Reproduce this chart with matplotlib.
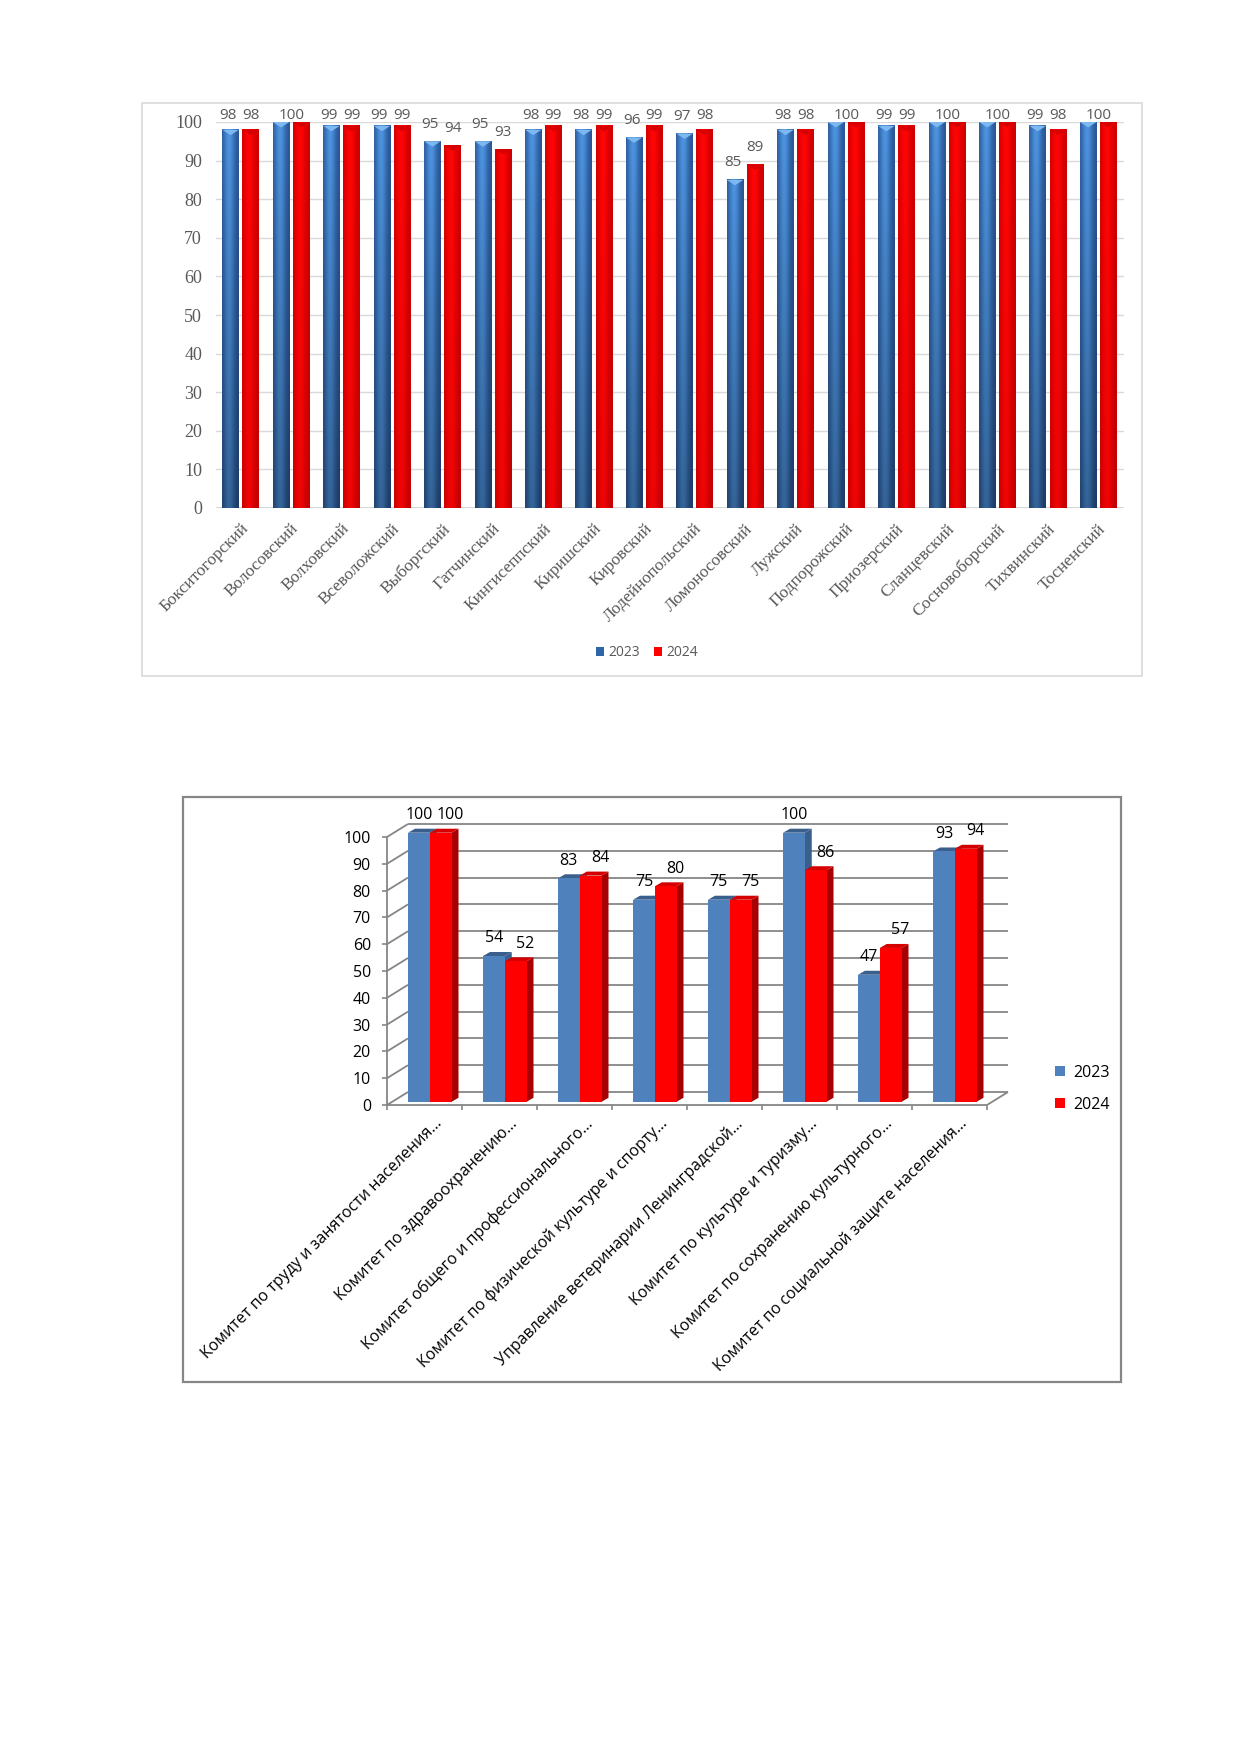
import numpy as np
import matplotlib.pyplot as plt
from matplotlib.patches import Polygon, Rectangle, Patch

W, H = 1240, 1754

# ---- data: districts (top chart) ----
districts = ["Бокситогорский", "Волосовский", "Волховский", "Всеволожский", "Выборгский",
             "Гатчинский", "Кингисеппский", "Киришский", "Кировский", "Лодейнопольский",
             "Ломоносовский", "Лужский", "Подпорожский", "Приозерский", "Сланцевский",
             "Сосновоборский", "Тихвинский", "Тосненский"]
district_2023 = [98, 100, 99, 99, 95, 95, 98, 98, 96, 97, 85, 98, 100, 99, 100, 100, 99, 100]
district_2024 = [98, 100, 99, 99, 94, 93, 99, 99, 99, 98, 89, 98, 100, 99, 100, 100, 98, 100]

# ---- data: committees (bottom chart) ----
committees = ["Комитет по труду и занятости населения…",
              "Комитет по здравоохранению…",
              "Комитет общего и профессионального…",
              "Комитет по физической культуре и спорту…",
              "Управление ветеринарии Ленинградской…",
              "Комитет по культуре и туризму…",
              "Комитет по сохранению культурного…",
              "Комитет по социальной защите населения…"]
committee_2023 = [100, 54, 83, 75, 75, 100, 47, 93]
committee_2024 = [100, 52, 84, 80, 75, 86, 57, 94]
years = ["2023", "2024"]

GREY_TXT = "#595959"
SERIF = ["Liberation Serif", "DejaVu Serif"]
SANS = ["Open Sans", "DejaVu Sans"]


def fig_rect(x0, y0, x1, y1):
    return [x0 / W, 1 - y1 / H, (x1 - x0) / W, (y1 - y0) / H]


def gradient_bar(ax, x0, width, height, edge, mid, bottom_dark):
    nx, ny = 40, 60
    t = np.linspace(0, 1, nx)
    prof = np.exp(-((t - 0.42) / 0.33) ** 2)
    edge, mid = np.array(edge), np.array(mid)
    cols = edge[None, :] + (mid - edge)[None, :] * prof[:, None]
    v = np.linspace(1.0, bottom_dark, ny)
    img = np.clip(cols[None, :, :] * v[:, None, None], 0, 1)
    ax.imshow(img, extent=(x0, x0 + width, 0, height), aspect="auto",
              interpolation="bilinear", zorder=2)


fig = plt.figure(figsize=(W / 100, H / 100), dpi=100)
fig.patch.set_facecolor("white")

# frames
fig.patches.append(Rectangle((142 / W, 1 - 676 / H), (1142 - 142) / W, (676 - 103) / H,
                             transform=fig.transFigure, fill=False, ec="#D9D9D9", lw=1.2))
fig.patches.append(Rectangle((183 / W, 1 - 1382 / H), (1121 - 183) / W, (1382 - 797) / H,
                             transform=fig.transFigure, fill=False, ec="#868686", lw=1.6))

# ================= top chart =================
ax1 = fig.add_axes(fig_rect(216, 122, 1124, 508))
n1 = len(districts)
for v in range(10, 101, 10):
    ax1.axhline(v, color="#D9D9D9", lw=1, zorder=0)
ax1.axhline(0, color="#D0D0D0", lw=1.2, zorder=0)

BW1 = 0.33
blue_edge, blue_mid = (0.16, 0.33, 0.58), (0.30, 0.58, 0.88)
red_edge, red_mid = (0.80, 0.0, 0.0), (1.0, 0.02, 0.02)
for i, (a, b) in enumerate(zip(district_2023, district_2024)):
    xa = i - 0.21 - BW1 / 2
    xb = i + 0.19 - BW1 / 2
    gradient_bar(ax1, xa, BW1, a, blue_edge, blue_mid, 0.68)
    gradient_bar(ax1, xb, BW1, b, red_edge, red_mid, 0.94)
    ax1.add_patch(Polygon([(xa, a), (xa + BW1, a), (xa + BW1 / 2, a - 1.4)],
                          color="#7DB8F0", zorder=3, lw=0))
    ax1.add_patch(Polygon([(xb, b), (xb + BW1, b), (xb + BW1 / 2, b - 1.4)],
                          color="#D80000", zorder=3, lw=0))
    if a == 100 and b == 100:
        ax1.text(i, 101.8, "100", ha="center", va="center", fontsize=11,
                 color=GREY_TXT, family=SANS)
    else:
        ax1.text(i - 0.26, min(a + 4.4, 101.8), str(a), ha="center", va="center",
                 fontsize=11, color=GREY_TXT, family=SANS)
        ax1.text(i + 0.19, min(b + 4.4, 101.8), str(b), ha="center", va="center",
                 fontsize=11, color=GREY_TXT, family=SANS)
    ax1.text(i - 0.02, -3.3, districts[i], rotation=45, rotation_mode="anchor",
             ha="right", va="top", fontsize=12.5, color=GREY_TXT, family=SERIF)

ax1.set_xlim(-0.5, n1 - 0.5)
ax1.set_ylim(0, 100)
ax1.set_yticks(range(0, 101, 10))
ax1.set_yticklabels([str(v) for v in range(0, 101, 10)], family=SERIF,
                    fontsize=13, color=GREY_TXT)
ax1.set_xticks([])
ax1.tick_params(axis="y", length=0, pad=10)
for s in ax1.spines.values():
    s.set_visible(False)

top_handles = [Patch(facecolor="#2E64A8", edgecolor="none"),
               Patch(facecolor="#FF0000", edgecolor="none")]
fig.legend(top_handles, years, loc="center", bbox_to_anchor=(647 / W, 1 - 653 / H),
           ncol=2, frameon=False, handlelength=0.6, handleheight=0.6,
           handletextpad=0.3, columnspacing=1.0, labelcolor=GREY_TXT,
           prop={"family": SANS, "size": 10})

# ================= bottom chart (pseudo 3D) =================
XPX, YPX = 75.0, 2.68  # pixels per category / per unit
ax2 = fig.add_axes(fig_rect(387, 818, 1012, 1105))
ax2.set_xlim(0, (1012 - 387) / XPX)
ax2.set_ylim(0, (1105 - 818) / YPX)
n2 = len(committees)
DX, DY = 21 / XPX, 13 / YPX
grid_kw = dict(color="#868686", lw=1.3, zorder=1, solid_capstyle="butt")
for v in range(0, 101, 10):
    ax2.plot([0, DX], [v, v + DY], **grid_kw)
    ax2.plot([DX, n2 + DX], [v + DY, v + DY], **grid_kw)
ax2.plot([n2, n2 + DX], [0, DY], **grid_kw)

BW2 = 0.29
ddx, ddy = 7 / XPX, 4 / YPX
base = 1.2
styles = [("#4F81BD", "#3A5F8C", "#3A5F8C"), ("#FF0000", "#D40000", "#A80000")]
for i, (a, b) in enumerate(zip(committee_2023, committee_2024)):
    for k, v in enumerate((a, b)):
        front, topc, side = styles[k]
        x0 = i + DX + k * BW2
        t = v + 1.6
        ax2.add_patch(Polygon([(x0 + BW2, base), (x0 + BW2 + ddx, base + ddy),
                               (x0 + BW2 + ddx, t + ddy), (x0 + BW2, t)],
                              color=side, lw=0, zorder=3 + k))
        ax2.add_patch(Polygon([(x0, t), (x0 + BW2, t), (x0 + BW2 + ddx, t + ddy),
                               (x0 + ddx, t + ddy)], color=topc, lw=0, zorder=3 + k))
        ax2.add_patch(Rectangle((x0, base), BW2, t - base, color=front, lw=0,
                                zorder=3 + k))
        ax2.text(x0 + BW2 / 2 + (0.13 if k else 0), t + 6.6, str(v), ha="center",
                 va="center", fontsize=11.5, color="black", family=SANS)
    ax2.text(i + 0.63, -4, committees[i], rotation=45, rotation_mode="anchor",
             ha="right", va="top", fontsize=11.5, color="black", family=SANS)

ax2.set_yticks(range(0, 101, 10))
ax2.set_yticklabels([str(v) for v in range(0, 101, 10)], family=SANS, fontsize=11.5)
ax2.set_xticks(range(n2 + 1))
ax2.set_xticklabels([])
ax2.tick_params(axis="both", direction="out", length=3.6, width=1.2, color="#868686")
ax2.tick_params(axis="y", pad=8)
for name, s in ax2.spines.items():
    s.set_visible(name in ("left", "bottom"))
    s.set_color("#868686")
    s.set_linewidth(1.3)
ax2.spines["left"].set_bounds(0, 100)
ax2.spines["bottom"].set_bounds(0, n2)
ax2.patch.set_alpha(0)

bottom_handles = [Patch(facecolor="#4F81BD", edgecolor="none"),
                  Patch(facecolor="#FF0000", edgecolor="none")]
fig.legend(bottom_handles, years, loc="center left",
           bbox_to_anchor=(1041 / W, 1 - 1089 / H), frameon=False,
           handlelength=0.6, handleheight=0.6, handletextpad=0.5, labelspacing=1.0,
           prop={"family": SANS, "size": 11.5})

fig.savefig("out.png", dpi=100, facecolor="white")
